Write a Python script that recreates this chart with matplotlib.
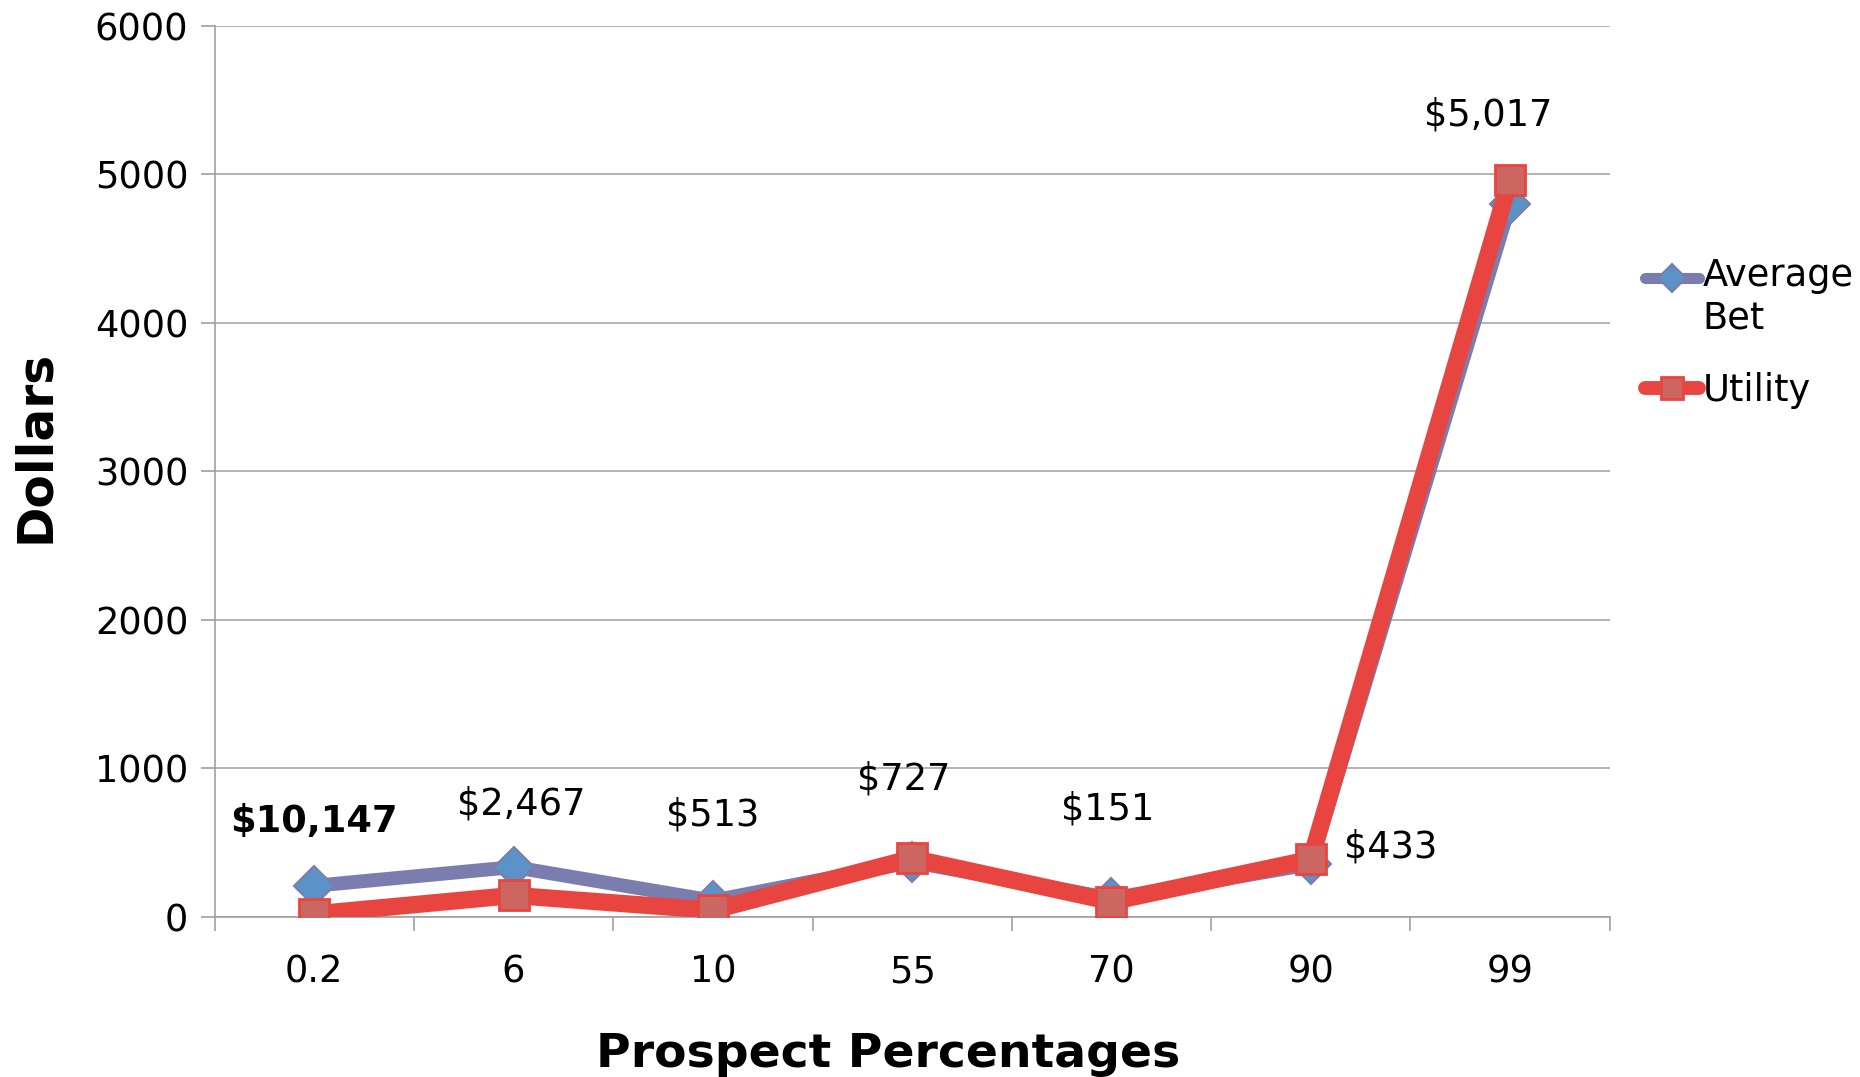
import matplotlib
matplotlib.use("Agg")
import numpy as np
import matplotlib.pyplot as plt
from matplotlib.ticker import FixedLocator, NullFormatter
from matplotlib.legend_handler import HandlerLine2D

categories = ["0.2", "6", "10", "55", "70", "90", "99"]
average_bet = [210, 336, 110, 370, 125, 355, 4800]
utility = [20, 145, 45, 395, 103, 388, 4965]
data_labels = ["$10,147", "$2,467", "$513", "$727", "$151", "$433", "$5,017"]
label_bold = [True, False, False, False, False, False, False]
label_dx = [0.0, 0.04, 0.0, -0.04, -0.02, 0.40, -0.11]
label_y = [646, 758, 686, 926, 726, 471, 5403]
y_ticks = [0, 1000, 2000, 3000, 4000, 5000, 6000]


class TopLineHandler(HandlerLine2D):
    def __init__(self, shift=0.0, **kw):
        super().__init__(**kw)
        self.shift = shift

    def create_artists(self, legend, orig_handle, xdescent, ydescent, width,
                       height, fontsize, trans):
        arts = super().create_artists(legend, orig_handle, xdescent, ydescent,
                                      width, height, fontsize, trans)
        for a in arts:
            a.set_ydata(np.asarray(a.get_ydata(), dtype=float) + self.shift)
        return arts


plt.rcParams['font.family'] = ['DejaVu Sans']
fig = plt.figure(figsize=(18.6, 10.77), dpi=100)
ax = fig.add_axes([0.1154, 0.1486, 0.75, 0.8273])

x = list(range(len(categories)))
l1, = ax.plot(x, average_bet, color="#7A7DAD", lw=10, marker="D", ms=20,
              mfc="#5B93C9", mec="#7A7DAD", mew=1.5, solid_joinstyle="miter",
              solid_capstyle="round", label="Average\nBet", zorder=3)
l2, = ax.plot(x, utility, color="#E84540", lw=12.5, marker="s", ms=22,
              mfc="#CC6660", mec="#E84540", mew=2, solid_joinstyle="miter",
              solid_capstyle="round", label="Utility", zorder=4)

for i, t in enumerate(data_labels):
    ax.text(i + label_dx[i], label_y[i], t, ha="center", va="center",
            fontsize=26.5, fontweight="bold" if label_bold[i] else "normal",
            color="black", zorder=5)

ax.set_xlim(-0.5, len(categories) - 0.5)
ax.set_ylim(0, 6000)
ax.set_yticks(y_ticks)
ax.set_yticklabels([str(v) for v in y_ticks])
ax.set_xticks(x)
ax.set_xticklabels(categories)
ax.xaxis.set_minor_locator(FixedLocator([i - 0.5 for i in range(len(categories) + 1)]))
ax.xaxis.set_minor_formatter(NullFormatter())
ax.tick_params(axis="x", which="major", length=0, pad=26, labelsize=26.5)
ax.tick_params(axis="x", which="minor", length=10, width=1.2, color="#A0A0A0")
ax.tick_params(axis="y", length=10, width=1.2, color="#A0A0A0", pad=9, labelsize=26.5)
ax.grid(axis="y", color="#A6A6A6", lw=1.2)
ax.set_axisbelow(True)
for s in ["top", "right"]:
    ax.spines[s].set_visible(False)
for s in ["left", "bottom"]:
    ax.spines[s].set_color("#A0A0A0")
    ax.spines[s].set_linewidth(1.2)

ax.set_xlabel("Prospect Percentages", fontsize=34, fontweight="bold", labelpad=30)
ax.set_ylabel("Dollars", fontsize=35, fontweight="bold", labelpad=26)
ax.xaxis.label.set_x(0.483)
ax.yaxis.label.set_y(0.528)

leg = ax.legend(handles=[l1, l2], loc="upper left", bbox_to_anchor=(1.015, 0.757),
                frameon=False, fontsize=26.5, handlelength=1.45, handletextpad=0.1,
                labelspacing=0.94, borderaxespad=0, markerscale=0.72,
                handler_map={l1: TopLineHandler(shift=15), l2: HandlerLine2D()})
for h in leg.legend_handles:
    h.set_linewidth(h.get_linewidth() * 0.8)

fig.savefig("out.png", dpi=100)
